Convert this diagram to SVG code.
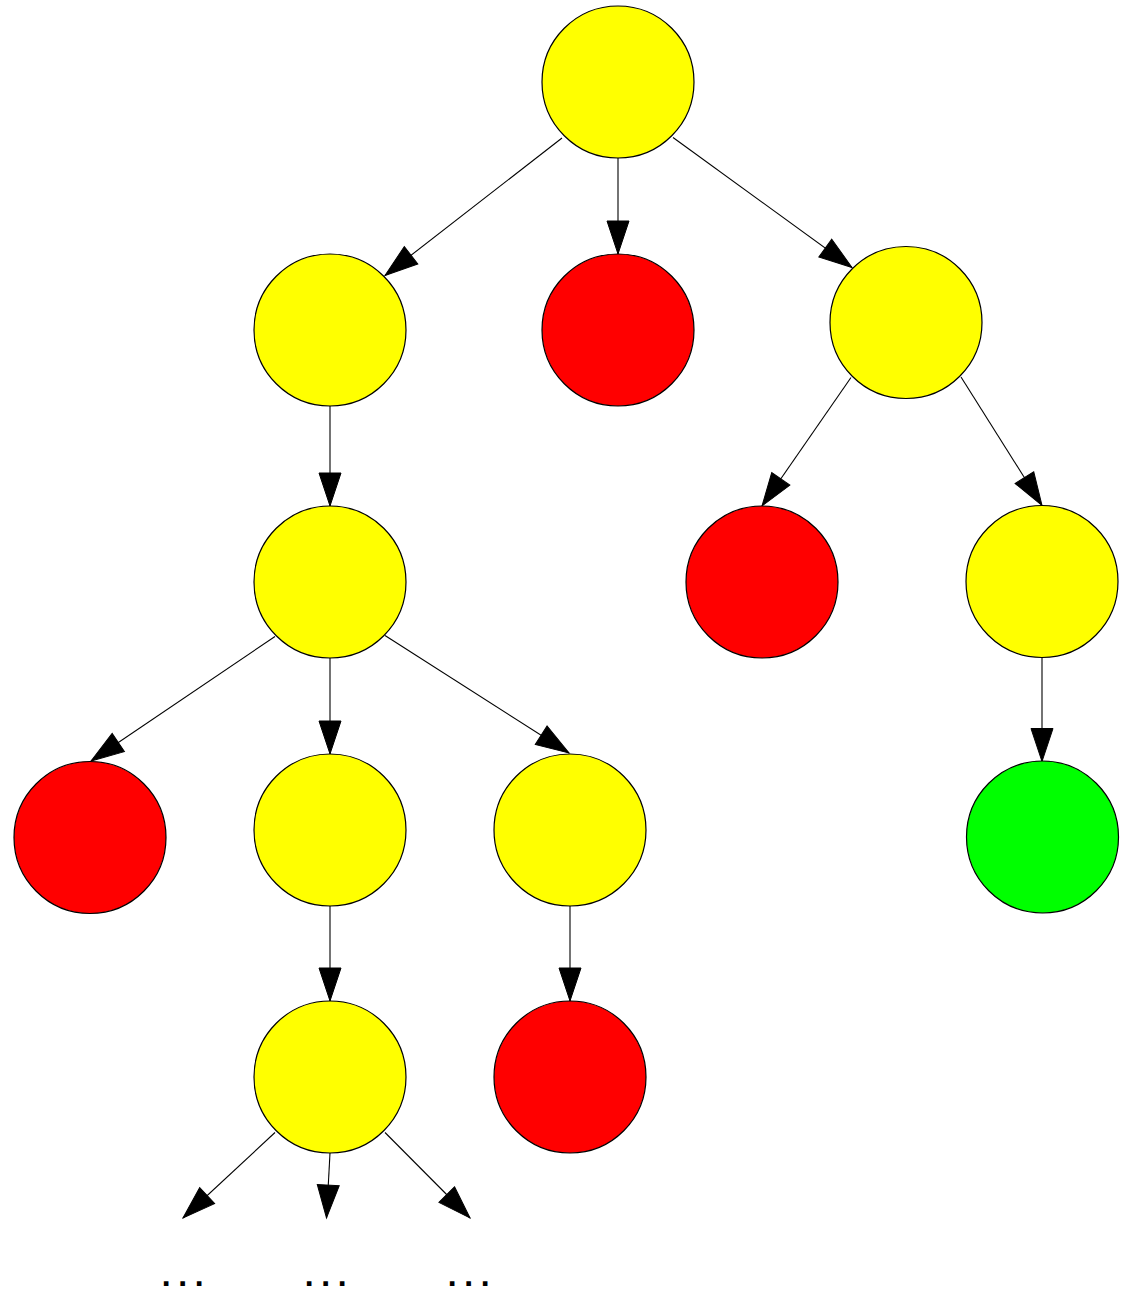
<svg xmlns="http://www.w3.org/2000/svg" width="1128" height="1290" viewBox="0 0 1128 1290">
<style>
.n{stroke:#000;stroke-width:1.2}
.y{fill:#ffff00}
.r{fill:#ff0000}
.g{fill:#00ff00}
.e{stroke:#000;stroke-width:1.1;fill:none;marker-end:url(#ah)}
.dots{font-family:"Liberation Mono",monospace;font-size:18px;font-weight:bold;letter-spacing:5.7px;fill:#000;stroke:#000;stroke-width:2;stroke-linejoin:miter;text-anchor:middle}
</style>
<defs>
<marker id="ah" markerUnits="userSpaceOnUse" markerWidth="34" markerHeight="22" refX="33" refY="11" orient="auto" overflow="visible">
<path d="M0,0 L33,11 L0,22 Z" fill="#000" stroke="#000" stroke-width="1"/>
</marker>
</defs>
<rect width="1128" height="1290" fill="#fff"/>
<g id="edges">
<line class="e" x1="562" y1="138" x2="385" y2="275.5"/>
<line class="e" x1="618" y1="158" x2="618" y2="254"/>
<line class="e" x1="673" y1="137.5" x2="852" y2="267.5"/>
<line class="e" x1="330" y1="406" x2="330" y2="506"/>
<line class="e" x1="851" y1="377.5" x2="762" y2="506"/>
<line class="e" x1="961" y1="377" x2="1042" y2="505.5"/>
<line class="e" x1="275" y1="636.5" x2="91" y2="761"/>
<line class="e" x1="330" y1="658" x2="330" y2="754"/>
<line class="e" x1="385" y1="635.5" x2="569" y2="753"/>
<line class="e" x1="1042" y1="657" x2="1042" y2="761.5"/>
<line class="e" x1="330" y1="906" x2="330" y2="1001"/>
<line class="e" x1="570" y1="906" x2="570" y2="1001"/>
<line class="e" x1="275" y1="1132.5" x2="183" y2="1218"/>
<line class="e" x1="330" y1="1153" x2="326.5" y2="1218"/>
<line class="e" x1="385" y1="1132.5" x2="470" y2="1218"/>
</g>
<g id="n_root"><circle class="n y" cx="618" cy="82" r="76"/></g>
<g id="n_b"><circle class="n y" cx="330" cy="330" r="76"/></g>
<g id="n_c"><circle class="n r" cx="618" cy="330" r="76"/></g>
<g id="n_d"><circle class="n y" cx="906" cy="322.5" r="76"/></g>
<g id="n_e"><circle class="n y" cx="330" cy="582" r="76"/></g>
<g id="n_f"><circle class="n r" cx="762" cy="582" r="76"/></g>
<g id="n_g"><circle class="n y" cx="1042" cy="581.5" r="76"/></g>
<g id="n_h"><circle class="n r" cx="90" cy="837.5" r="76"/></g>
<g id="n_i"><circle class="n y" cx="330" cy="830" r="76"/></g>
<g id="n_j"><circle class="n y" cx="570" cy="830" r="76"/></g>
<g id="n_k"><circle class="n g" cx="1042.5" cy="837" r="76"/></g>
<g id="n_l"><circle class="n y" cx="330" cy="1077" r="76"/></g>
<g id="n_m"><circle class="n r" cx="570" cy="1077" r="76"/></g>
<g id="more1"><text class="dots" x="185.5" y="1284.5">...</text></g>
<g id="more2"><text class="dots" x="328.5" y="1284.5">...</text></g>
<g id="more3"><text class="dots" x="471.5" y="1284.5">...</text></g>
</svg>
